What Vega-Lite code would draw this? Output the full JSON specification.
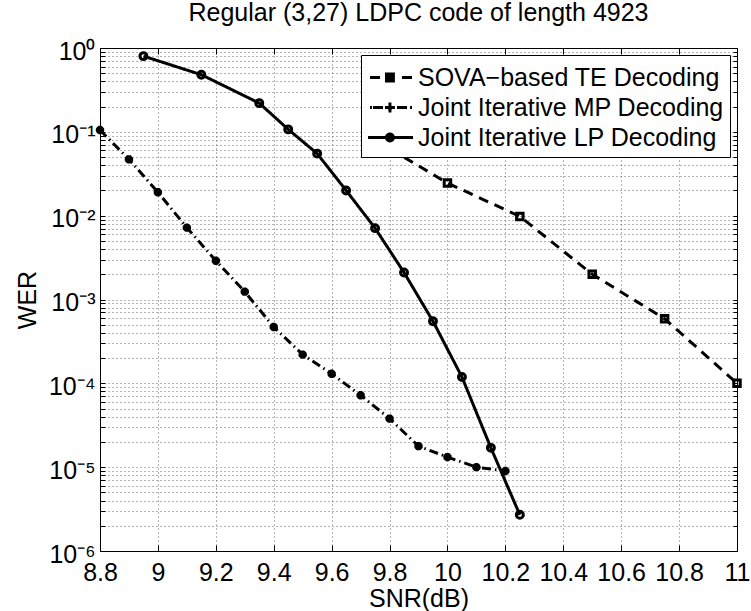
{
  "$schema": "https://vega.github.io/schema/vega-lite/v6.json",
  "width": 637,
  "height": 503,
  "autosize": {"type": "none"},
  "padding": {"left": 100, "top": 48, "right": 14, "bottom": 60},
  "background": "white",
  "title": {"text": "Regular (3,27) LDPC code of length 4923", "font": "Liberation Sans", "fontSize": 25, "fontWeight": "normal", "color": "black", "frame": "group", "anchor": "middle", "baseline": "alphabetic", "offset": -7},
  "config": {"view": {"stroke": "black", "strokeWidth": 1}, "font": "Liberation Sans"},
  "data": {"values": [
    {"series": "SOVA−based TE Decoding", "snr": 9.75, "wer": 0.08},
    {"series": "SOVA−based TE Decoding", "snr": 10.0, "wer": 0.0245},
    {"series": "SOVA−based TE Decoding", "snr": 10.25, "wer": 0.0098},
    {"series": "SOVA−based TE Decoding", "snr": 10.5, "wer": 0.002},
    {"series": "SOVA−based TE Decoding", "snr": 10.75, "wer": 0.00059},
    {"series": "SOVA−based TE Decoding", "snr": 11.0, "wer": 0.0001},
    {"series": "Joint Iterative MP Decoding", "snr": 8.8, "wer": 0.105},
    {"series": "Joint Iterative MP Decoding", "snr": 8.9, "wer": 0.047},
    {"series": "Joint Iterative MP Decoding", "snr": 9.0, "wer": 0.019},
    {"series": "Joint Iterative MP Decoding", "snr": 9.1, "wer": 0.0072},
    {"series": "Joint Iterative MP Decoding", "snr": 9.2, "wer": 0.0029},
    {"series": "Joint Iterative MP Decoding", "snr": 9.3, "wer": 0.00124},
    {"series": "Joint Iterative MP Decoding", "snr": 9.4, "wer": 0.00047},
    {"series": "Joint Iterative MP Decoding", "snr": 9.5, "wer": 0.00022},
    {"series": "Joint Iterative MP Decoding", "snr": 9.6, "wer": 0.00013},
    {"series": "Joint Iterative MP Decoding", "snr": 9.7, "wer": 0.000072},
    {"series": "Joint Iterative MP Decoding", "snr": 9.8, "wer": 0.000038},
    {"series": "Joint Iterative MP Decoding", "snr": 9.9, "wer": 0.0000178},
    {"series": "Joint Iterative MP Decoding", "snr": 10.0, "wer": 0.0000132},
    {"series": "Joint Iterative MP Decoding", "snr": 10.1, "wer": 0.00001},
    {"series": "Joint Iterative MP Decoding", "snr": 10.2, "wer": 0.000009},
    {"series": "Joint Iterative LP Decoding", "snr": 8.95, "wer": 0.8},
    {"series": "Joint Iterative LP Decoding", "snr": 9.15, "wer": 0.48},
    {"series": "Joint Iterative LP Decoding", "snr": 9.35, "wer": 0.22},
    {"series": "Joint Iterative LP Decoding", "snr": 9.45, "wer": 0.107},
    {"series": "Joint Iterative LP Decoding", "snr": 9.55, "wer": 0.055},
    {"series": "Joint Iterative LP Decoding", "snr": 9.65, "wer": 0.02},
    {"series": "Joint Iterative LP Decoding", "snr": 9.75, "wer": 0.0071},
    {"series": "Joint Iterative LP Decoding", "snr": 9.85, "wer": 0.0021},
    {"series": "Joint Iterative LP Decoding", "snr": 9.95, "wer": 0.00055},
    {"series": "Joint Iterative LP Decoding", "snr": 10.05, "wer": 0.000119},
    {"series": "Joint Iterative LP Decoding", "snr": 10.15, "wer": 0.000017},
    {"series": "Joint Iterative LP Decoding", "snr": 10.25, "wer": 0.0000027}
  ]},
  "layer": [
    {
      "mark": {"type": "line", "strokeWidth": 3, "color": "black"},
      "encoding": {
        "x": {"field": "snr", "type": "quantitative",
          "scale": {"domain": [8.8, 11], "nice": false, "zero": false},
          "axis": {"orient": "bottom", "values": [8.8, 9, 9.2, 9.4, 9.6, 9.8, 10, 10.2, 10.4, 10.6, 10.8, 11], "format": "~g",
            "grid": true, "gridDash": [1, 3], "gridColor": "#666", "gridWidth": 1,
            "tickSize": -6, "tickColor": "black", "tickWidth": 1, "domainColor": "black", "domainWidth": 1,
            "labelFontSize": 25, "labelColor": "black", "labelPadding": 15, "labelFlush": false, "labelOverlap": false,
            "title": "SNR(dB)", "titleFontSize": 25, "titleFontWeight": "normal", "titleColor": "black", "titlePadding": 1}},
        "y": {"field": "wer", "type": "quantitative",
          "scale": {"type": "log", "domain": [0.000001, 1], "nice": false},
          "axis": {"orient": "left", "values": [1e-6,2e-6,3e-6,4e-6,5e-6,6e-6,7e-6,8e-6,9e-6,1e-5,2e-5,3e-5,4e-5,5e-5,6e-5,7e-5,8e-5,9e-5,1e-4,2e-4,3e-4,4e-4,5e-4,6e-4,7e-4,8e-4,9e-4,1e-3,2e-3,3e-3,4e-3,5e-3,6e-3,7e-3,8e-3,9e-3,1e-2,2e-2,3e-2,4e-2,5e-2,6e-2,7e-2,8e-2,9e-2,0.1,0.2,0.3,0.4,0.5,0.6,0.7,0.8,0.9,1],
            "labelExpr": "abs(log(datum.value)/LN10 - round(log(datum.value)/LN10)) < 0.01 ? '10' + ['⁰','⁻¹','⁻²','⁻³','⁻⁴','⁻⁵','⁻⁶'][round(-log(datum.value)/LN10)] : ''",
            "grid": true, "gridDash": [1, 3], "gridColor": "#666", "gridWidth": 1,
            "tickSize": -5, "tickColor": "black", "domainColor": "black",
            "labelFontSize": 25, "labelColor": "black", "labelPadding": 10, "labelOffset": 3, "labelFlush": false, "labelOverlap": false,
            "title": "WER", "titleFontSize": 25, "titleFontWeight": "normal", "titleColor": "black", "titlePadding": 8}},
        "strokeDash": {"field": "series", "type": "nominal",
          "scale": {"domain": ["SOVA−based TE Decoding", "Joint Iterative MP Decoding", "Joint Iterative LP Decoding"], "range": [[10, 7], [9, 4, 1.5, 4], [1, 0]]},
          "legend": {"title": null, "orient": "top-right", "offset": 7, "padding": 6, "rowPadding": -2,
            "strokeColor": "black", "fillColor": "white", "labelFontSize": 25, "labelFont": "Liberation Sans", "labelColor": "black",
            "labelOffset": 18, "labelLimit": 400, "symbolSize": 900, "symbolStrokeWidth": 3, "symbolStrokeColor": "black", "symbolFillColor": "black", "symbolOpacity": 1}}
      }
    },
    {
      "mark": {"type": "point", "filled": true, "opacity": 0, "color": "black", "stroke": "black", "strokeWidth": 3},
      "encoding": {
        "x": {"field": "snr", "type": "quantitative",
          "axis": {"orient": "top", "values": [8.8, 9, 9.2, 9.4, 9.6, 9.8, 10, 10.2, 10.4, 10.6, 10.8, 11], "labels": false, "grid": false, "tickSize": -6, "tickColor": "black", "domainColor": "black", "title": null}},
        "y": {"field": "wer", "type": "quantitative",
          "axis": {"orient": "right", "values": [1e-6,2e-6,3e-6,4e-6,5e-6,6e-6,7e-6,8e-6,9e-6,1e-5,2e-5,3e-5,4e-5,5e-5,6e-5,7e-5,8e-5,9e-5,1e-4,2e-4,3e-4,4e-4,5e-4,6e-4,7e-4,8e-4,9e-4,1e-3,2e-3,3e-3,4e-3,5e-3,6e-3,7e-3,8e-3,9e-3,1e-2,2e-2,3e-2,4e-2,5e-2,6e-2,7e-2,8e-2,9e-2,0.1,0.2,0.3,0.4,0.5,0.6,0.7,0.8,0.9,1], "labels": false, "grid": false, "tickSize": -4, "tickColor": "black", "domainColor": "black", "title": null}},
        "shape": {"field": "series", "type": "nominal",
          "scale": {"domain": ["SOVA−based TE Decoding", "Joint Iterative MP Decoding", "Joint Iterative LP Decoding"],
            "range": [
              "M-0.9,-0.1L-0.23,-0.1L-0.23,0.1L-0.9,0.1Z M0.1,-0.33L0.76,-0.33L0.76,0.33L0.1,0.33Z M1.23,-0.1L1.9,-0.1L1.9,0.1L1.23,0.1Z",
              "M-0.9,-0.1L-0.77,-0.1L-0.77,0.1L-0.9,0.1Z M-0.7,-0.1L-0.03,-0.1L-0.03,0.1L-0.7,0.1Z M0.1,-0.1L0.76,-0.1L0.76,0.1L0.1,0.1Z M0.33,-0.33L0.53,-0.33L0.53,0.33L0.33,0.33Z M0.43,-0.25L0.68,0L0.43,0.25L0.18,0Z M0.9,-0.1L1.57,-0.1L1.57,0.1L0.9,0.1Z M1.77,-0.1L1.9,-0.1L1.9,0.1L1.77,0.1Z",
              "M-1.03,-0.1L1.97,-0.1L1.97,0.1L-1.03,0.1Z M0.76,0A0.33,0.33,0,1,1,0.1,0A0.33,0.33,0,1,1,0.76,0Z"]},
          "legend": {"title": null, "orient": "top-right", "offset": 7, "padding": 6, "rowPadding": -2,
            "strokeColor": "black", "fillColor": "white", "labelFontSize": 25, "labelFont": "Liberation Sans", "labelColor": "black",
            "labelOffset": 18, "labelLimit": 400, "symbolSize": 900, "symbolStrokeWidth": 3, "symbolStrokeColor": "black", "symbolFillColor": "black", "symbolOpacity": 1}},
        "strokeDash": {"field": "series", "type": "nominal",
          "legend": {"title": null, "orient": "top-right", "offset": 7, "padding": 6, "rowPadding": -2,
            "strokeColor": "black", "fillColor": "white", "labelFontSize": 25, "labelFont": "Liberation Sans", "labelColor": "black",
            "labelOffset": 18, "labelLimit": 400, "symbolSize": 900, "symbolStrokeWidth": 3, "symbolStrokeColor": "black", "symbolFillColor": "black", "symbolOpacity": 1}}
      }
    },
    {
      "transform": [{"filter": "datum.series === 'SOVA−based TE Decoding'"}],
      "mark": {"type": "point", "shape": "square", "size": 42, "filled": false, "strokeWidth": 3, "color": "black", "opacity": 1},
      "encoding": {
        "x": {"field": "snr", "type": "quantitative", "axis": null},
        "y": {"field": "wer", "type": "quantitative", "axis": null}
      }
    },
    {
      "transform": [{"filter": "datum.series === 'Joint Iterative MP Decoding'"}],
      "mark": {"type": "point", "shape": "M-1,0L1,0M0,-1L0,1M-0.7,-0.7L0.7,0.7M-0.7,0.7L0.7,-0.7", "size": 70, "filled": false, "strokeWidth": 3, "color": "black", "opacity": 1},
      "encoding": {
        "x": {"field": "snr", "type": "quantitative", "axis": null},
        "y": {"field": "wer", "type": "quantitative", "axis": null}
      }
    },
    {
      "transform": [{"filter": "datum.series === 'Joint Iterative LP Decoding'"}],
      "mark": {"type": "point", "shape": "circle", "size": 48, "filled": false, "strokeWidth": 3, "color": "black", "opacity": 1},
      "encoding": {
        "x": {"field": "snr", "type": "quantitative", "axis": null},
        "y": {"field": "wer", "type": "quantitative", "axis": null}
      }
    }
  ],
  "resolve": {"axis": {"x": "independent", "y": "independent"}}
}
